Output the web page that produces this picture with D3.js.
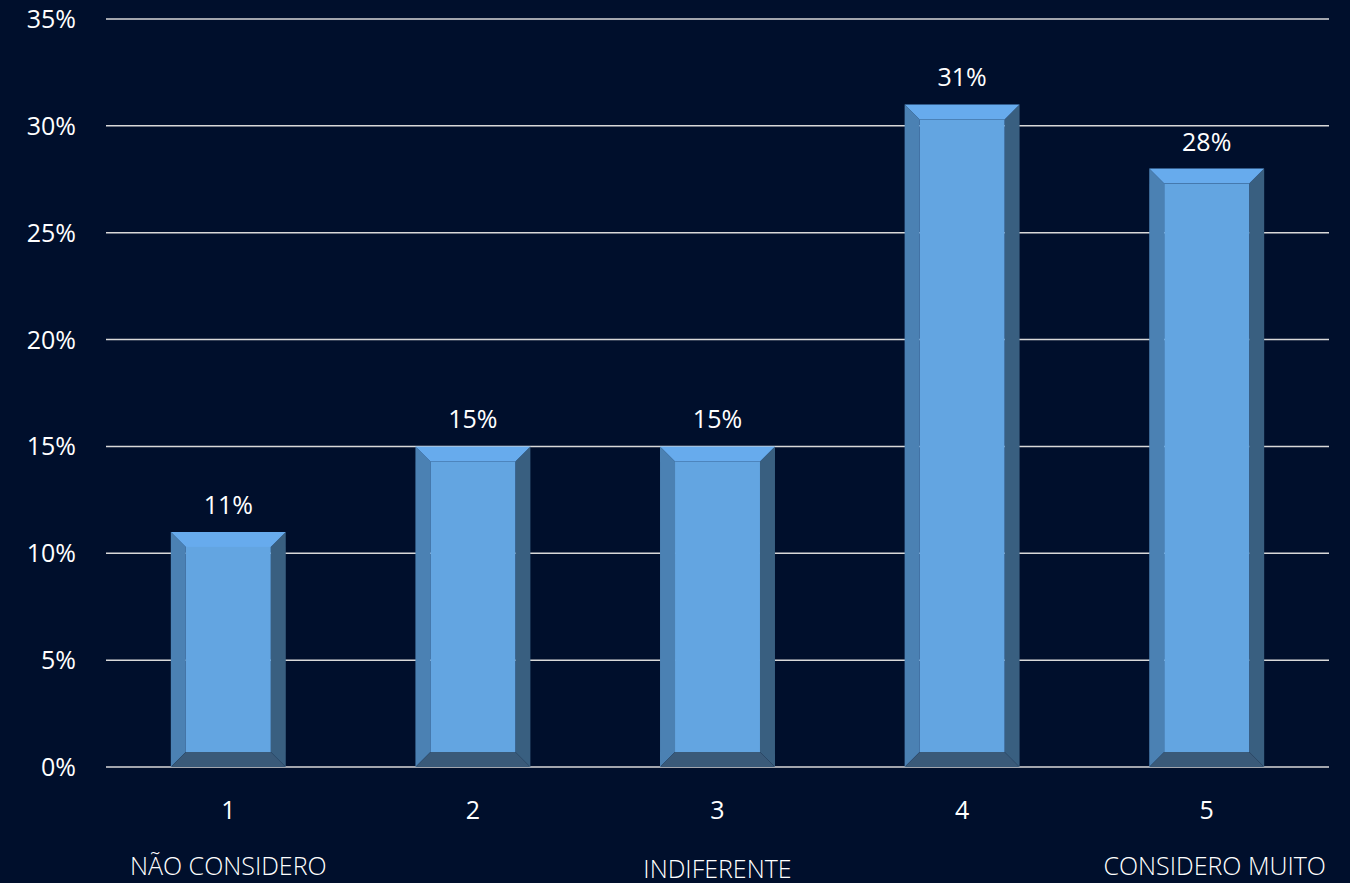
<!DOCTYPE html>
<html><head><meta charset="utf-8">
<script src="https://cdn.jsdelivr.net/npm/d3@7"></script>
<style>
html,body{margin:0;padding:0;background:#000f2c;}
svg{display:block;font-family:"Open Sans",sans-serif;}
</style></head>
<body>
<svg id="chart" width="1350" height="883"></svg>
<script>
const categories = ["1","2","3","4","5"];
const values = [11, 15, 15, 31, 28];
const yTicks = [0,5,10,15,20,25,30,35];
const scaleLabelCats = ["1","3","5"];
const scaleLabelTexts = ["NÃO CONSIDERO","INDIFERENTE","CONSIDERO MUITO"];

(function(){
const svg = d3.select("#chart");
svg.append("rect").attr("width",1350).attr("height",883).attr("fill","#000f2c");

const mLeft = 106, mRight = 1329, mTop = 19, mBottom = 767;
const x = d3.scaleBand().domain(categories).range([mLeft,mRight]).paddingInner(0.53).paddingOuter(0.265);
const y = d3.scaleLinear().domain([0,35]).range([mBottom,mTop]);

svg.append("g").selectAll("line").data(yTicks).join("line")
  .attr("x1",mLeft).attr("x2",mRight)
  .attr("y1",d=>y(d)).attr("y2",d=>y(d))
  .attr("stroke","#d9d9d9").attr("stroke-width",1.5);

svg.append("g").selectAll("text").data(yTicks).join("text")
  .attr("x",76).attr("y",d=>y(d)).attr("dy","0.36em")
  .attr("text-anchor","end").attr("fill","#ffffff")
  .attr("font-size",25).text(d=>d+"%");

const bev = 15;
const g = svg.append("g").selectAll("g").data(values).join("g");
g.each(function(v,i){
  const el = d3.select(this);
  const x0 = x(categories[i]), x1 = x0 + x.bandwidth();
  const y0 = y(v), y1 = y(0);
  const pts = a => a.map(p=>p.join(",")).join(" ");
  el.append("polygon").attr("points",pts([[x0,y0],[x0+bev,y0+bev],[x0+bev,y1-bev],[x0,y1]])).attr("fill","#4b81b3");
  el.append("polygon").attr("points",pts([[x1,y0],[x1-bev,y0+bev],[x1-bev,y1-bev],[x1,y1]])).attr("fill","#395f80");
  el.append("polygon").attr("points",pts([[x0,y1],[x0+bev,y1-bev],[x1-bev,y1-bev],[x1,y1]])).attr("fill","#3a5a79");
  el.append("polygon").attr("points",pts([[x0,y0],[x1,y0],[x1-bev,y0+bev],[x0+bev,y0+bev]])).attr("fill","#67abed");
  el.append("rect").attr("x",x0+bev).attr("y",y0+bev).attr("width",x.bandwidth()-2*bev).attr("height",Math.max(0,y1-y0-2*bev)).attr("fill","#63a5e1");
  el.append("text").attr("x",(x0+x1)/2).attr("y",y0-18)
    .attr("text-anchor","middle").attr("fill","#ffffff").attr("font-size",25)
    .text(v+"%");
});

svg.append("g").selectAll("text").data(categories).join("text")
  .attr("x",d=>x(d)+x.bandwidth()/2).attr("y",819)
  .attr("text-anchor","middle").attr("fill","#ffffff").attr("font-size",25)
  .text(d=>d);

const dyOff = [0,3,0], dxOff = [0,0,8];
svg.append("g").selectAll("text").data(scaleLabelTexts).join("text")
  .attr("x",(d,i)=>x(scaleLabelCats[i])+x.bandwidth()/2+dxOff[i]).attr("y",(d,i)=>875+dyOff[i])
  .attr("text-anchor","middle").attr("fill","#ffffff").attr("font-size",25).attr("font-weight",300)
  .text(d=>d);
})();
</script>
</body></html>
